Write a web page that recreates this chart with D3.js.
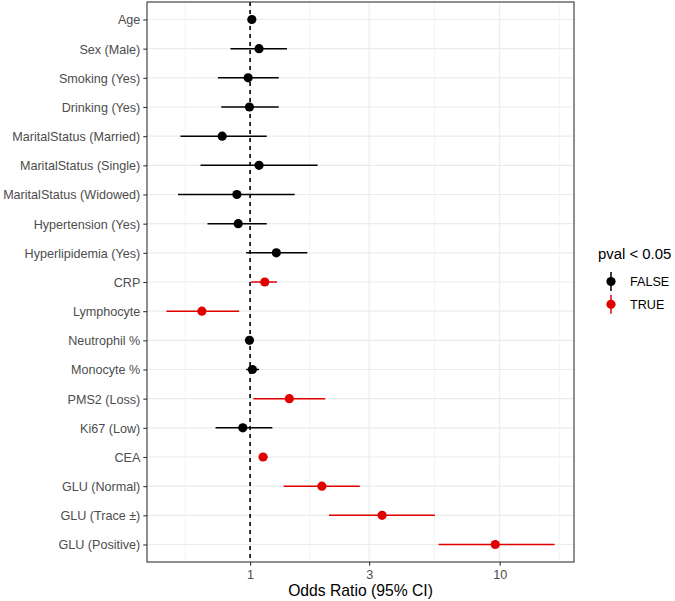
<!DOCTYPE html>
<html><head><meta charset="utf-8">
<script src="https://cdn.jsdelivr.net/npm/d3@7"></script>
<style>body{margin:0;background:#fff}svg{display:block}text{font-family:"Liberation Sans",Arial,Helvetica,sans-serif}</style>
</head><body><div id="chart"></div>
<script>
const categories = ["Age","Sex (Male)","Smoking (Yes)","Drinking (Yes)","MaritalStatus (Married)","MaritalStatus (Single)","MaritalStatus (Widowed)","Hypertension (Yes)","Hyperlipidemia (Yes)","CRP","Lymphocyte","Neutrophil %","Monocyte %","PMS2 (Loss)","Ki67 (Low)","CEA","GLU (Normal)","GLU (Trace \u00b1)","GLU (Positive)"];
const oddsRatio = [1.016,1.086,0.982,0.994,0.773,1.086,0.885,0.896,1.274,1.145,0.641,0.994,1.021,1.436,0.935,1.127,1.939,3.38,9.6];
const ciLower =   [0.995,0.834,0.743,0.766,0.526,0.633,0.514,0.675,0.964,1.009,0.462,0.985,0.964,1.031,0.727,1.085,1.363,2.07,5.69];
const ciUpper =   [1.035,1.405,1.302,1.302,1.166,1.864,1.509,1.166,1.695,1.282,0.904,1.004,1.086,2.0,1.228,1.175,2.75,5.5,16.6];
const significant = [false,false,false,false,false,false,false,false,false,true,true,false,false,true,false,true,true,true,true];
const xTicks = [1,3,10];
const xMinor = [0.548,1.732,5.477,17.32];
const legendLabels = ["FALSE","TRUE"];

const W=675,H=601;
const m={left:147,right:101,top:2,bottom:39};
const svg=d3.select("#chart").append("svg").attr("width",W).attr("height",H);
const pw=W-m.left-m.right, ph=H-m.top-m.bottom;
const lo=d3.min(ciLower), hi=d3.max(ciUpper);
const llo=Math.log10(lo), lhi=Math.log10(hi), pad=(lhi-llo)*0.05;
const x=d3.scaleLog().domain([Math.pow(10,llo-pad),Math.pow(10,lhi+pad)]).range([m.left,m.left+pw]);
const y=d3.scalePoint().domain(categories).range([m.top,m.top+ph]).padding(0.6);
const color=d3.scaleOrdinal().domain([false,true]).range(["#000000","#E10000"]);

const g=svg.append("g");
// grid
g.selectAll(".minor").data(xMinor).join("line").attr("x1",d=>x(d)).attr("x2",d=>x(d)).attr("y1",m.top).attr("y2",m.top+ph).attr("stroke","#EBEBEB").attr("stroke-width",0.55);
g.selectAll(".majx").data(xTicks).join("line").attr("x1",d=>x(d)).attr("x2",d=>x(d)).attr("y1",m.top).attr("y2",m.top+ph).attr("stroke","#EBEBEB").attr("stroke-width",1.1);
g.selectAll(".majy").data(categories).join("line").attr("x1",m.left).attr("x2",m.left+pw).attr("y1",d=>y(d)).attr("y2",d=>y(d)).attr("stroke","#EBEBEB").attr("stroke-width",1.1);
// ref line
g.append("line").attr("x1",x(1)).attr("x2",x(1)).attr("y1",m.top).attr("y2",m.top+ph).attr("stroke","#000").attr("stroke-width",1.6).attr("stroke-dasharray","4,4");
// CIs
const data=categories.map((c,i)=>({c,or:oddsRatio[i],l:ciLower[i],u:ciUpper[i],s:significant[i]}));
g.selectAll(".ci").data(data).join("line").attr("x1",d=>x(d.l)).attr("x2",d=>x(d.u)).attr("y1",d=>y(d.c)).attr("y2",d=>y(d.c)).attr("stroke",d=>color(d.s)).attr("stroke-width",1.5);
g.selectAll(".pt").data(data).join("circle").attr("cx",d=>x(d.or)).attr("cy",d=>y(d.c)).attr("r",4.6).attr("fill",d=>color(d.s));
// border
svg.append("rect").attr("x",m.left).attr("y",m.top).attr("width",pw).attr("height",ph).attr("fill","none").attr("stroke","#333").attr("stroke-width",1.1);
// axes
const xa=svg.append("g").attr("transform",`translate(0,${m.top+ph})`).call(d3.axisBottom(x).tickValues(xTicks).tickFormat(d3.format("d")).tickSize(3.7).tickPadding(3));
const ya=svg.append("g").attr("transform",`translate(${m.left},0)`).call(d3.axisLeft(y).tickSize(3.7).tickPadding(3));
[xa,ya].forEach(a=>{a.select(".domain").remove();a.selectAll(".tick line").attr("stroke","#333").attr("stroke-width",1.1);a.selectAll("text").attr("fill","#4D4D4D").style("font-size","12.6px").style("font-family","'Liberation Sans',Arial,sans-serif");});
xa.selectAll("text").attr("dy","0.85em");
ya.selectAll("text").attr("dy","0.35em");
svg.append("text").attr("x",m.left+pw/2).attr("y",596).attr("text-anchor","middle").style("font-size","15.7px").attr("fill","#000").text("Odds Ratio (95% CI)");
// legend
const lg=svg.append("g");
lg.append("text").attr("x",598).attr("y",259).style("font-size","14.9px").attr("fill","#000").text("pval < 0.05");
legendLabels.forEach((t,i)=>{
  const cy=281.5+i*22.8, col=color(i===1);
  lg.append("line").attr("x1",611).attr("x2",611).attr("y1",cy-9.5).attr("y2",cy+9.5).attr("stroke",col).attr("stroke-width",1.5);
  lg.append("circle").attr("cx",611).attr("cy",cy).attr("r",4.6).attr("fill",col);
  lg.append("text").attr("x",630).attr("y",cy).attr("dy","0.35em").style("font-size","12.6px").attr("fill","#000").text(t);
});
</script></body></html>
